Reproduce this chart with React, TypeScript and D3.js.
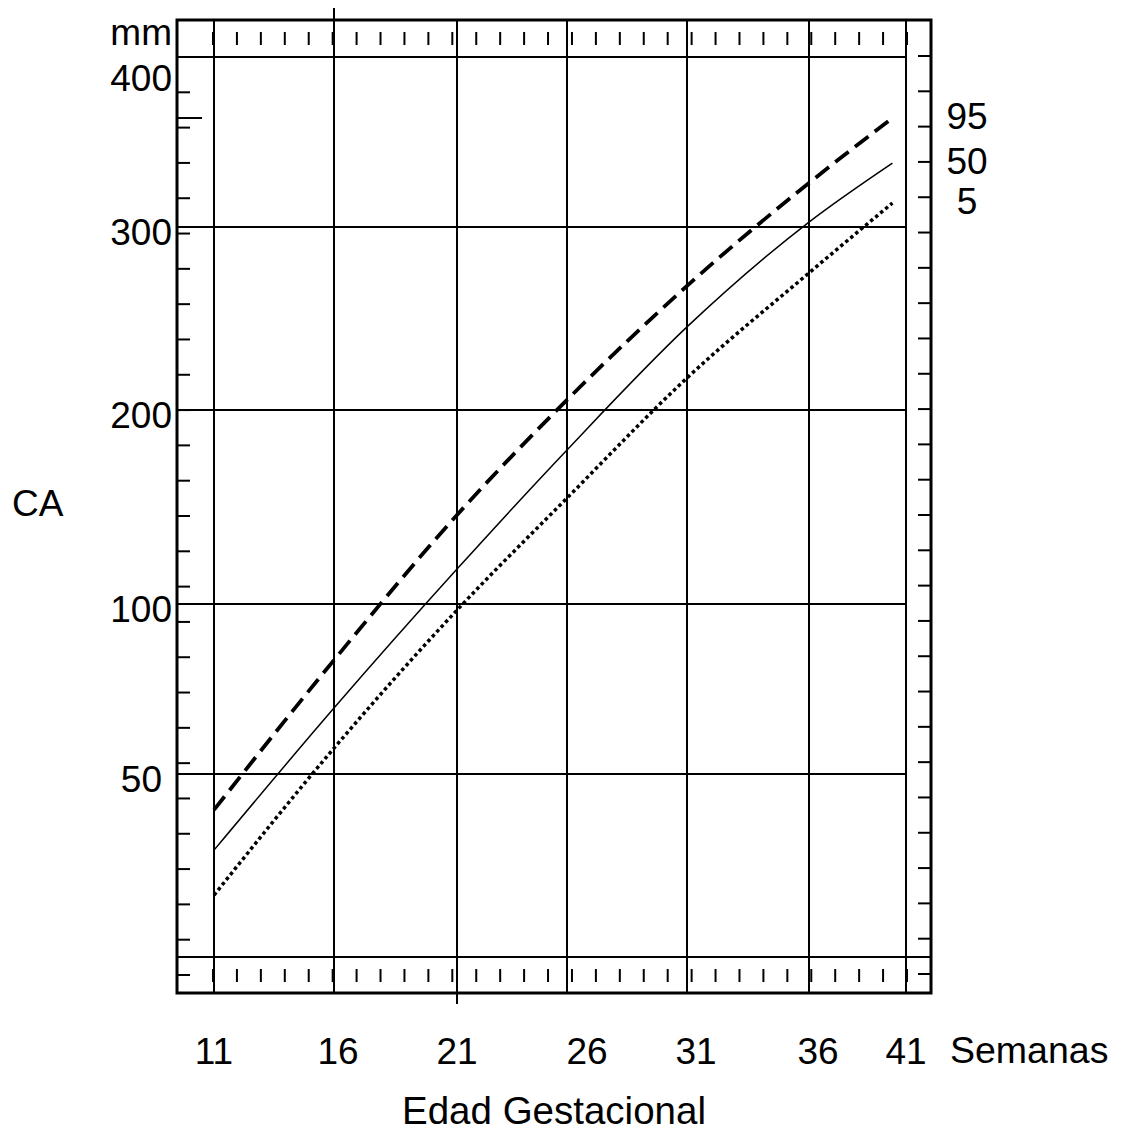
import React from "react";
import * as d3 from "d3";

// semanas de gestación (eje X) y percentiles de CA en mm
const weeks = [11, 16, 21, 26, 31, 36, 40.3];
const p95 = [40.2, 83.5, 145.9, 205.5, 267.8, 325.9, 364.1];
const p50 = [29.2, 69.4, 118.0, 179.4, 245.4, 302.9, 337.6];
const p5 = [16.9, 57.6, 98.2, 154.6, 217.5, 274.9, 314.1];

const xTicks = [11, 16, 21, 26, 31, 36, 41];
const yTicks = [50, 100, 200, 300, 400];
const percentiles = ["95", "50", "5"];

const W = 1121;
const H = 1133;
const font = "'Liberation Sans', Arial, sans-serif";

export default function App() {
  // the printed axes are not evenly spaced, so the scales are piecewise
  const x = d3
    .scaleLinear()
    .domain(xTicks)
    .range([214, 334, 457, 567, 687, 809, 906]);
  const y = d3
    .scaleLinear()
    .domain([0, 50, 100, 200, 300, 400])
    .range([957, 774, 604, 410, 227, 57]);

  // ruler ticks in the frame bands (regular spacing)
  const rulerX = d3.scaleLinear().domain([0, 29]).range([213, 907]);
  const rulerY = d3.scaleLinear().domain([0, 26]).range([57, 975]);

  const frame = { left: 177, top: 20, right: 931, bottom: 993 };

  const series = [
    { name: "95", values: p95, dash: "17 8", width: 3.8 },
    { name: "50", values: p50, dash: null, width: 1.5 },
    { name: "5", values: p5, dash: "3.5 3", width: 3.5 },
  ];

  const line = d3
    .line<[number, number]>()
    .x((d) => x(d[0]))
    .y((d) => y(d[1]))
    .curve(d3.curveMonotoneX);

  const rx = d3.range(0, 30);
  const ry = d3.range(0, 27);

  // small shifts of the printed week labels
  const labelShift = (v: number) =>
    v === 26 ? 20 : v === 31 || v === 36 ? 9 : v === 16 ? 4 : 0;

  return (
    <svg
      width={W}
      height={H}
      style={{ position: "absolute", left: 0, top: 0, background: "#fff" }}
      fontFamily={font}
    >
      <rect x={0} y={0} width={W} height={H} fill="#fff" />

      {/* outer frame */}
      <rect
        x={frame.left}
        y={frame.top}
        width={frame.right - frame.left}
        height={frame.bottom - frame.top}
        fill="none"
        stroke="#000"
        strokeWidth={3}
      />

      {/* horizontal grid lines */}
      {yTicks.map((v) => (
        <line
          key={"hy" + v}
          x1={frame.left}
          x2={x(41)}
          y1={y(v)}
          y2={y(v)}
          stroke="#000"
          strokeWidth={2}
        />
      ))}
      <line
        x1={frame.left}
        x2={frame.right}
        y1={y(0)}
        y2={y(0)}
        stroke="#000"
        strokeWidth={2}
      />

      {/* vertical grid lines */}
      {xTicks.map((v) => (
        <line
          key={"vx" + v}
          x1={x(v)}
          x2={x(v)}
          y1={v === 16 ? 8 : frame.top}
          y2={v === 21 ? 1004 : frame.bottom}
          stroke="#000"
          strokeWidth={2}
        />
      ))}

      {/* ruler ticks top and bottom bands */}
      {rx.map((k) => (
        <g key={"rx" + k}>
          <line x1={rulerX(k)} x2={rulerX(k)} y1={32} y2={45} stroke="#000" strokeWidth={2} />
          <line x1={rulerX(k)} x2={rulerX(k)} y1={969} y2={982} stroke="#000" strokeWidth={2} />
        </g>
      ))}

      {/* ruler ticks left and right */}
      {ry.map((k) => (
        <g key={"ry" + k}>
          <line
            x1={frame.left}
            x2={frame.left + 13}
            y1={rulerY(k)}
            y2={rulerY(k)}
            stroke="#000"
            strokeWidth={2}
          />
          <line
            x1={frame.right - 13}
            x2={frame.right}
            y1={rulerY(k) - 1}
            y2={rulerY(k) - 1}
            stroke="#000"
            strokeWidth={2}
          />
        </g>
      ))}
      <line
        x1={frame.left}
        x2={frame.left + 25}
        y1={y(p95[p95.length - 1])}
        y2={y(p95[p95.length - 1])}
        stroke="#000"
        strokeWidth={2}
      />

      {/* percentile curves */}
      {series.map((s) => (
        <path
          key={s.name}
          d={line(weeks.map((w, i) => [w, s.values[i]] as [number, number])) || ""}
          fill="none"
          stroke="#000"
          strokeWidth={s.width}
          strokeDasharray={s.dash || undefined}
        />
      ))}

      {/* percentile labels */}
      {series.map((s, i) => (
        <text
          key={"pl" + s.name}
          x={967}
          y={y(s.values[s.values.length - 1]) + 11}
          textAnchor="middle"
          fontSize={37}
        >
          {percentiles[i]}
        </text>
      ))}

      {/* y tick labels */}
      <text x={172} y={45} textAnchor="end" fontSize={37}>
        mm
      </text>
      {yTicks.map((v) => (
        <text
          key={"yl" + v}
          x={v === 50 ? 162 : 172}
          y={Math.max(y(v) + 18, y(400) + 34)}
          textAnchor="end"
          fontSize={37}
        >
          {v}
        </text>
      ))}
      <text x={12} y={516} fontSize={37}>
        CA
      </text>

      {/* x tick labels */}
      {xTicks.map((v) => (
        <text
          key={"xl" + v}
          x={x(v) + labelShift(v)}
          y={1064}
          textAnchor="middle"
          fontSize={37}
        >
          {v}
        </text>
      ))}
      <text x={950} y={1063} fontSize={37.5}>
        Semanas
      </text>
      <text x={554} y={1124} textAnchor="middle" fontSize={38.5}>
        Edad Gestacional
      </text>
    </svg>
  );
}
